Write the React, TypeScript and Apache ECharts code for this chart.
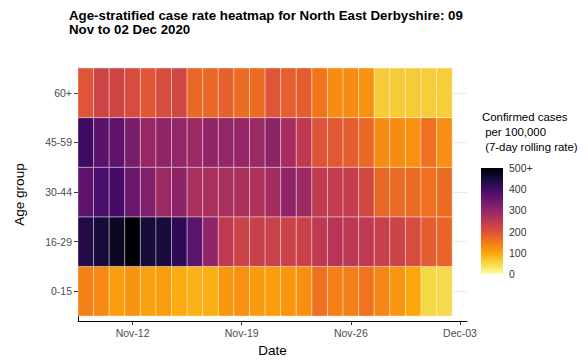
import React, { useEffect, useRef } from "react";
import * as echarts from "echarts";

// ---- data ----
const dates = [
  "2020-11-09", "2020-11-10", "2020-11-11", "2020-11-12", "2020-11-13", "2020-11-14",
  "2020-11-15", "2020-11-16", "2020-11-17", "2020-11-18", "2020-11-19", "2020-11-20",
  "2020-11-21", "2020-11-22", "2020-11-23", "2020-11-24", "2020-11-25", "2020-11-26",
  "2020-11-27", "2020-11-28", "2020-11-29", "2020-11-30", "2020-12-01", "2020-12-02",
];
const ageGroups = ["0-15", "16-29", "30-44", "45-59", "60+"];

const rate0to15 = [140, 130, 110, 120, 105, 110, 95, 88, 92, 115, 122, 112, 108, 118, 124, 160, 140, 143, 155, 135, 118, 98, 50, 47];
const rate16to29 = [435, 450, 470, 500, 450, 445, 420, 367, 305, 245, 228, 233, 230, 228, 230, 245, 255, 248, 245, 232, 228, 210, 185, 175];
const rate30to44 = [365, 390, 395, 350, 322, 290, 307, 275, 270, 275, 272, 265, 280, 305, 288, 245, 240, 238, 218, 170, 168, 165, 160, 165];
const rate45to59 = [405, 370, 365, 330, 295, 305, 300, 290, 303, 300, 297, 292, 308, 278, 245, 198, 190, 182, 170, 128, 128, 122, 160, 125];
const rate60plus = [195, 225, 225, 210, 192, 210, 220, 170, 170, 180, 165, 165, 195, 182, 185, 155, 128, 128, 122, 62, 62, 62, 60, 60];
const rateRows = [rate0to15, rate16to29, rate30to44, rate45to59, rate60plus];

const xTickDates = ["2020-11-12", "2020-11-19", "2020-11-26", "2020-12-03"];
const xTickLabels = ["Nov-12", "Nov-19", "Nov-26", "Dec-03"];
const legendTicks = [0, 100, 200, 300, 400, 500];
const legendTickLabels = ["0", "100", "200", "300", "400", "500+"];

// inferno palette, reversed (low = pale yellow, high = black)
const infernoRev = [
  "#fcffa4", "#f6d746", "#fca50a", "#f37819", "#dd513a", "#bc3754",
  "#932667", "#6a176e", "#420a68", "#160b39", "#000004",
];

const titleText = "Age-stratified case rate heatmap for North East Derbyshire: 09\nNov to 02 Dec 2020";
const legendTitle = "Confirmed cases\n per 100,000\n (7-day rolling rate)";

const FONT = "'Liberation Sans', Arial, sans-serif";
const DAY = 86400000;
const dayIndex = (d: string) => Math.round((Date.parse(d) - Date.parse(dates[0])) / DAY);
const xTickValues = xTickDates.map(dayIndex);
const yTickValues = ageGroups.map((_, i) => i);

export default function App() {
  const ref = useRef<HTMLDivElement>(null);
  useEffect(() => {
    document.body.style.margin = "0";
    const chart = echarts.init(ref.current!, null, { renderer: "svg" });
    const cells: number[][] = [];
    rateRows.forEach((row, yi) => row.forEach((v, xi) => cells.push([dayIndex(dates[xi]), yi, v])));

    const option: any = {
      animation: false,
      textStyle: { fontFamily: FONT },
      title: [
        {
          text: titleText, left: 69, top: 8, padding: 0,
          textStyle: { fontFamily: FONT, fontSize: 13.3, fontWeight: "bold", color: "#000", lineHeight: 14.5 },
        },
        {
          text: legendTitle, left: 482, top: 110, padding: 0,
          textStyle: { fontFamily: FONT, fontSize: 11.4, fontWeight: "normal", color: "#000", lineHeight: 14.8 },
        },
      ],
      grid: [
        { left: 78, right: 121, top: 68, bottom: 39 },
        { left: 481, top: 168, width: 22, height: 106 },
      ],
      xAxis: [
        {
          type: "value", min: -0.5, max: 24.45,
          name: "Date", nameLocation: "middle", nameGap: 22,
          nameTextStyle: { fontFamily: FONT, fontSize: 13.5, color: "#000" },
          axisLine: { show: true, onZero: false, lineStyle: { color: "#000", width: 1 } },
          axisTick: { show: true, length: 4, customValues: xTickValues, lineStyle: { color: "#333" } },
          axisLabel: {
            customValues: xTickValues, margin: 6, fontSize: 10.5, color: "#4d4d4d", fontFamily: FONT,
            formatter: (v: number) => xTickLabels[xTickValues.indexOf(Math.round(v))] ?? "",
          },
          splitLine: { show: false },
        },
        { gridIndex: 1, type: "value", min: 0, max: 1, show: false },
      ],
      yAxis: [
        {
          type: "value", min: -0.6, max: 4.5,
          name: "Age group", nameLocation: "middle", nameGap: 52, nameRotate: 90,
          nameTextStyle: { fontFamily: FONT, fontSize: 13.5, color: "#000" },
          axisLine: { show: true, onZero: false, lineStyle: { color: "#000", width: 1 } },
          axisTick: { show: true, length: 4, customValues: yTickValues, lineStyle: { color: "#333" } },
          axisLabel: {
            customValues: yTickValues, margin: 6, fontSize: 10.5, color: "#4d4d4d", fontFamily: FONT,
            formatter: (v: number) => ageGroups[Math.round(v)] ?? "",
          },
          splitLine: { show: true, lineStyle: { color: "#ebebeb", width: 1 } },
        },
        {
          gridIndex: 1, type: "value", min: 0, max: 500, interval: 100, position: "right",
          axisLine: { show: false, onZero: false },
          axisTick: { show: true, inside: true, length: 4, lineStyle: { color: "#fff", width: 1 } },
          axisLabel: {
            margin: 6, fontSize: 10.5, color: "#333", fontFamily: FONT,
            formatter: (v: number) => legendTickLabels[legendTicks.indexOf(v)] ?? "",
          },
          splitLine: { show: false },
        },
        {
          gridIndex: 1, type: "value", min: 0, max: 500, interval: 100, position: "left",
          axisLine: { show: false, onZero: false },
          axisTick: { show: true, inside: true, length: 4, lineStyle: { color: "#fff", width: 1 } },
          axisLabel: { show: false },
          splitLine: { show: false },
        },
      ],
      visualMap: {
        type: "continuous", show: false, min: 0, max: 500, dimension: 2, seriesIndex: 0,
        inRange: { color: infernoRev },
      },
      series: [
        {
          type: "custom", xAxisIndex: 0, yAxisIndex: 0, data: cells, z: 2,
          encode: { x: 0, y: 1 },
          renderItem: (_p: any, api: any) => {
            const x = api.value(0), y = api.value(1);
            const a = api.coord([x - 0.5, y + 0.5]);
            const b = api.coord([x + 0.5, y - 0.5]);
            return {
              type: "rect",
              shape: { x: a[0], y: a[1], width: b[0] - a[0], height: b[1] - a[1] },
              style: { fill: api.visual("color"), stroke: "rgba(255,255,255,0.45)", lineWidth: 0.8 },
            };
          },
        },
        {
          type: "custom", xAxisIndex: 1, yAxisIndex: 1, data: [[0, 0, 1, 500]], z: 1,
          encode: { x: [0, 2], y: [1, 3] },
          renderItem: (_p: any, api: any) => {
            const a = api.coord([api.value(0), api.value(3)]);
            const b = api.coord([api.value(2), api.value(1)]);
            return {
              type: "rect",
              shape: { x: a[0], y: a[1], width: b[0] - a[0], height: b[1] - a[1] },
              style: {
                fill: new echarts.graphic.LinearGradient(0, 1, 0, 0,
                  infernoRev.map((c, i) => ({ offset: i / (infernoRev.length - 1), color: c }))),
              },
            };
          },
        },
      ],
    };
    chart.setOption(option);
    return () => chart.dispose();
  }, []);
  return <div ref={ref} style={{ width: 588, height: 362 }} />;
}
